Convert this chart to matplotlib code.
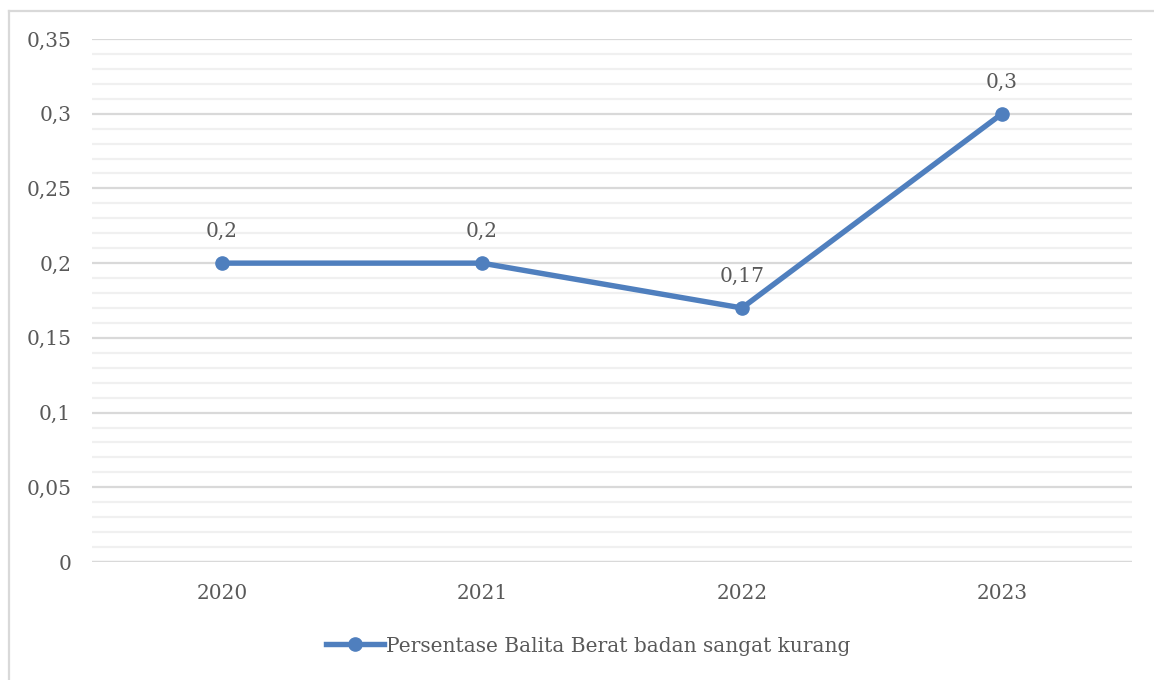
import matplotlib
matplotlib.use("Agg")
import matplotlib.pyplot as plt
from matplotlib.lines import Line2D
import numpy as np

years = ["2020", "2021", "2022", "2023"]
values = [0.2, 0.2, 0.17, 0.3]
value_labels = ["0,2", "0,2", "0,17", "0,3"]
y_ticks = [0, 0.05, 0.1, 0.15, 0.2, 0.25, 0.3, 0.35]
y_tick_labels = ["0", "0,05", "0,1", "0,15", "0,2", "0,25", "0,3", "0,35"]
series_name = "Persentase Balita Berat badan sangat kurang"

W, H = 1154, 680
fig = plt.figure(figsize=(W / 100, H / 100), dpi=100)
font = "DejaVu Serif"
fs = 14.5
tcol = "#595959"
lcol = "#4F7FBE"

ax = fig.add_axes([92 / W, 1 - 562 / H, (1132 - 92) / W, (562 - 39) / H])
x = np.arange(len(years))
ax.plot(x, values, color=lcol, lw=3.9, marker="o", ms=9.5, solid_capstyle="round", zorder=3)
ax.set_xlim(-0.5, len(years) - 0.5)
ax.set_ylim(0, 0.35)
ax.set_yticks(y_ticks)
ax.set_yticklabels(y_tick_labels, fontfamily=font, fontsize=fs, color=tcol)
ax.set_xticks(x)
ax.set_xticklabels(years, fontfamily=font, fontsize=fs, color=tcol)
ax.set_yticks(np.arange(0, 0.3501, 0.01), minor=True)
ax.grid(axis="y", which="major", color="#D9D9D9", lw=1.6, zorder=0)
ax.grid(axis="y", which="minor", color="#F0F0F0", lw=1.6, zorder=0)
ax.tick_params(axis="both", which="both", length=0)
ax.tick_params(axis="y", pad=15)
ax.tick_params(axis="x", pad=16)
for s in ax.spines.values():
    s.set_visible(False)
ax.axhline(0, color="#D9D9D9", lw=1.6, zorder=1)

for xi, v, lab in zip(x, values, value_labels):
    ax.annotate(lab, (xi, v), xytext=(0, 16), textcoords="offset points",
                ha="center", va="bottom", fontfamily=font, fontsize=fs, color=tcol)

handle = Line2D([0], [0], color=lcol, lw=3.9, marker="o", ms=9.5)
fig.legend([handle], [series_name], loc="center", bbox_to_anchor=(588 / W, 1 - 646 / H),
           frameon=False, prop={"family": font, "size": fs}, labelcolor=tcol,
           handlelength=2.9, handletextpad=0.1)

# outer chart border (left and top visible)
fig.add_artist(Line2D([8.5 / W, 8.5 / W], [0, 1 - 10.5 / H], color="#D9D9D9", lw=1.6, transform=fig.transFigure))
fig.add_artist(Line2D([8.5 / W, 1], [1 - 10.5 / H, 1 - 10.5 / H], color="#D9D9D9", lw=1.6, transform=fig.transFigure))

fig.savefig("out.png", dpi=100, facecolor="white")
